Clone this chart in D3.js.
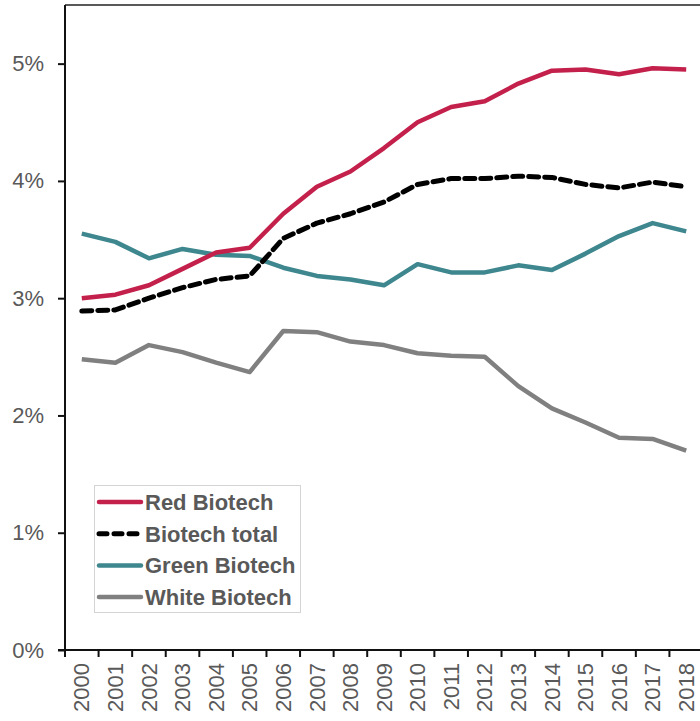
<!DOCTYPE html>
<html>
<head>
<meta charset="utf-8">
<script src="https://cdn.jsdelivr.net/npm/d3@7"></script>
<style>
  body { margin: 0; background: #fff; }
  svg { display: block; font-family: "Liberation Sans", Arial, sans-serif; }
</style>
</head>
<body>
<svg id="chart" width="700" height="721"></svg>
<script>
// data (percent)
var years = ["2000","2001","2002","2003","2004","2005","2006","2007","2008","2009",
             "2010","2011","2012","2013","2014","2015","2016","2017","2018"];
var redBiotech   = [3.00,3.03,3.11,3.25,3.39,3.43,3.72,3.95,4.08,4.28,4.50,4.63,4.68,4.83,4.94,4.95,4.91,4.96,4.95];
var biotechTotal = [2.89,2.90,3.00,3.09,3.16,3.19,3.51,3.64,3.72,3.82,3.97,4.02,4.02,4.04,4.03,3.97,3.94,3.99,3.95];
var greenBiotech = [3.55,3.48,3.34,3.42,3.37,3.36,3.26,3.19,3.16,3.11,3.29,3.22,3.22,3.28,3.24,3.38,3.53,3.64,3.57];
var whiteBiotech = [2.48,2.45,2.60,2.54,2.45,2.37,2.72,2.71,2.63,2.60,2.53,2.51,2.50,2.25,2.06,1.94,1.81,1.80,1.70];
var yTicks = [0,1,2,3,4,5];

var series = [
  {name:"Red Biotech",   values:redBiotech,   color:"#c4204c", dash:null},
  {name:"Biotech total", values:biotechTotal, color:"#000000", dash:"10,6"},
  {name:"Green Biotech", values:greenBiotech, color:"#3e878f", dash:null},
  {name:"White Biotech", values:whiteBiotech, color:"#808080", dash:null}
];

var svg = d3.select("#chart");
var plotLeft = 65, plotRight = 703, plotTop = 5, plotBottom = 650;

var x = d3.scaleBand().domain(years).range([plotLeft, plotRight]);
var y = d3.scaleLinear().domain([0, 5.5]).range([plotBottom, plotTop]);

// top frame line
svg.append("line")
  .attr("x1", plotLeft).attr("x2", 700).attr("y1", plotTop).attr("y2", plotTop)
  .attr("stroke", "#222").attr("stroke-width", 1.5);

// y axis
var yAxis = svg.append("g").attr("transform", "translate(" + plotLeft + ",0)")
  .call(d3.axisLeft(y).tickValues(yTicks).tickSize(7).tickPadding(14)
    .tickFormat(function(d){ return d + "%"; }));
yAxis.select(".domain").attr("stroke", "#111").attr("stroke-width", 2)
  .attr("d", "M0," + plotTop + "V" + plotBottom);
yAxis.selectAll(".tick line").attr("stroke", "#111").attr("stroke-width", 2);
yAxis.selectAll(".tick text").attr("font-size", 22).attr("fill", "#595959");

// x axis, ticks on band edges
var xg = svg.append("g").attr("transform", "translate(0," + plotBottom + ")");
xg.append("line").attr("x1", plotLeft - 7).attr("x2", 700)
  .attr("stroke", "#111").attr("stroke-width", 2);
xg.selectAll(".xt").data(years).enter().append("line")
  .attr("x1", function(d){ return x(d); }).attr("x2", function(d){ return x(d); })
  .attr("y1", 0).attr("y2", 7)
  .attr("stroke", "#111").attr("stroke-width", 2);
xg.selectAll(".xl").data(years).enter().append("text")
  .attr("transform", function(d){
    return "translate(" + (x(d) + x.bandwidth()/2) + ",13) rotate(-90)";
  })
  .attr("dy", "0.35em")
  .attr("text-anchor", "end")
  .attr("font-size", 22).attr("fill", "#595959")
  .text(function(d){ return d; });

// lines
var line = d3.line()
  .x(function(d, i){ return x(years[i]) + x.bandwidth()/2; })
  .y(function(d){ return y(d); });

// draw order: white, green, total, red (red on top)
[3,2,1,0].forEach(function(k){
  var s = series[k];
  svg.append("path")
    .attr("d", line(s.values))
    .attr("fill", "none")
    .attr("stroke", s.color)
    .attr("stroke-width", s.dash ? 5 : 4.5)
    .attr("stroke-linejoin", "round")
    .attr("stroke-linecap", s.dash ? "round" : "butt")
    .attr("stroke-dasharray", s.dash);
});

// legend
var lg = svg.append("g");
lg.append("rect").attr("x", 94.5).attr("y", 485.5).attr("width", 206).attr("height", 127)
  .attr("fill", "#fff").attr("stroke", "#d4d4d4").attr("stroke-width", 1);
series.forEach(function(s, i){
  var yy = 502 + i * 31.7;
  lg.append("line").attr("x1", 99).attr("x2", 141).attr("y1", yy).attr("y2", yy)
    .attr("stroke", s.color).attr("stroke-width", s.dash ? 5 : 4.5)
    .attr("stroke-linecap", "round")
    .attr("stroke-dasharray", s.dash ? "8,7" : null);
  lg.append("text").attr("x", 145).attr("y", yy).attr("dy", "0.36em")
    .attr("font-size", 22).attr("font-weight", "bold").attr("fill", "#595959")
    .text(s.name);
});
</script>
</body>
</html>
